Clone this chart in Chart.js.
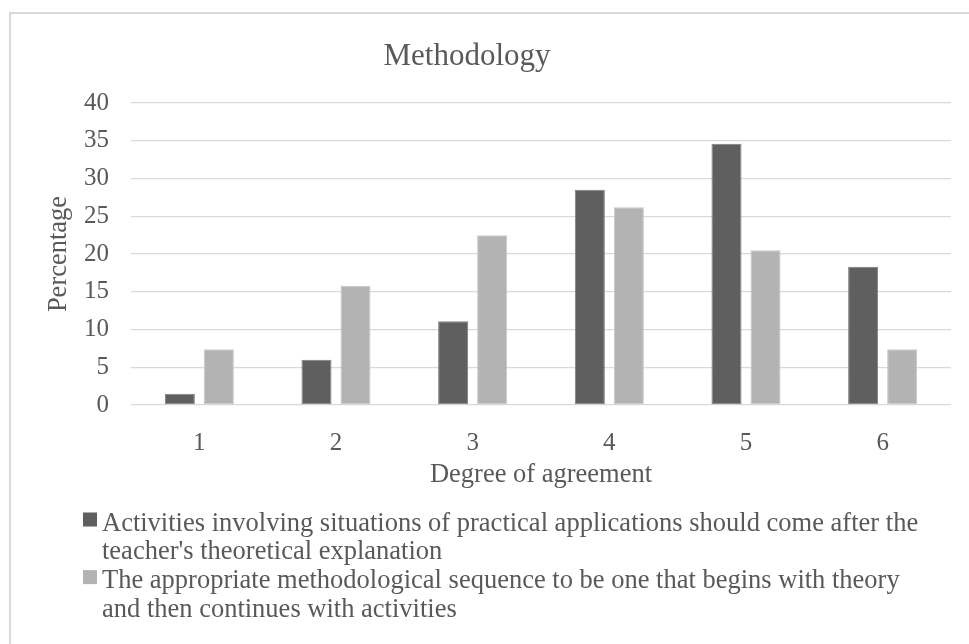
<!DOCTYPE html>
<html>
<head>
<meta charset="utf-8">
<title>Methodology</title>
<script src="https://cdn.jsdelivr.net/npm/chart.js@4.4.1/dist/chart.umd.min.js"></script>
<style>
  html, body { margin: 0; padding: 0; background: #fff; overflow: hidden; }
  #frame {
    position: absolute; left: 9px; top: 12px; width: 1000px; height: 700px;
    border: 2px solid #d9d9d9; box-sizing: border-box;
  }
  #wrap { position: absolute; left: 0; top: 0; width: 969px; height: 644px; }
</style>
</head>
<body>
<div id="frame"></div>
<div id="wrap"><canvas id="grafico" width="969" height="644"></canvas></div>
<script>
  /*
    ==================================================
    ====================== DATA ======================
    ==================================================
  */
  let chartTitle = 'Methodology';
  let xTitle = 'Degree of agreement';
  let yTitle = 'Percentage';

  let categories = ['1', '2', '3', '4', '5', '6'];
  let yTicks = [0, 5, 10, 15, 20, 25, 30, 35, 40];

  let practicalAfterTheory = [1.5, 6.0, 11.1, 28.5, 34.6, 18.3];
  let theoryThenActivities = [7.4, 15.8, 22.5, 26.2, 20.5, 7.4];

  let seriesNames = [
    "Activities involving situations of practical applications should come after the teacher's theoretical explanation",
    'The appropriate methodological sequence to be one that begins with theory and then continues with activities'
  ];
  // legend text as it wraps in the original
  let legendLines = [
    ['Activities involving situations of practical applications should come after the', "teacher's theoretical explanation"],
    ['The appropriate methodological sequence to be one that begins with theory', 'and then continues with activities']
  ];

  let textColor = '#595959';
  let gridColor = '#d9d9d9';
  let serif = '"Liberation Serif", "Times New Roman", serif';
  let seriesColors = ['#5f5f5f', '#b3b3b3'];
  let seriesBorders = ['#7d7d7d', '#c8c8c8'];

  /*
    ==================================================
    ============== TITLE + LEGEND PLUGIN ==============
    ==================================================
  */
  let textosPlugin = {
    id: 'textos',
    afterDraw(chart) {
      let ctx = chart.ctx;
      ctx.save();
      ctx.fillStyle = textColor;
      ctx.textBaseline = 'alphabetic';

      ctx.font = `31px ${serif}`;
      ctx.textAlign = 'center';
      ctx.fillText(chartTitle, 467, 65);

      ctx.font = `26.5px ${serif}`;
      ctx.textAlign = 'left';
      let baseline = 530.5;
      legendLines.forEach((lines, i) => {
        ctx.fillStyle = seriesColors[i];
        ctx.fillRect(83, baseline - 18, 14, 14);
        ctx.fillStyle = textColor;
        lines.forEach(line => {
          ctx.fillText(line, 102, baseline);
          baseline += 28.8;
        });
      });
      ctx.restore();
    }
  };

  /*
    ==================================================
    ===================== CHART =====================
    ==================================================
  */
  let grafico = new Chart(document.getElementById('grafico').getContext('2d'), {
    type: 'bar',
    data: {
      labels: categories,
      datasets: [
        {
          label: seriesNames[0],
          data: practicalAfterTheory,
          backgroundColor: seriesColors[0],
          borderColor: seriesBorders[0],
          borderWidth: 1,
          borderSkipped: false
        },
        {
          label: seriesNames[1],
          data: theoryThenActivities,
          backgroundColor: seriesColors[1],
          borderColor: seriesBorders[1],
          borderWidth: 1,
          borderSkipped: false
        }
      ]
    },
    options: {
      responsive: false,
      animation: false,
      devicePixelRatio: 1,
      categoryPercentage: 0.571,
      barPercentage: 0.77,
      layout: { padding: { left: 43, right: 18, top: 103, bottom: 149 } },
      plugins: {
        legend: { display: false },
        title: { display: false },
        tooltip: { enabled: false }
      },
      scales: {
        x: {
          grid: { display: false },
          border: { display: false },
          ticks: { color: textColor, font: { family: serif, size: 25 }, padding: 15 },
          title: {
            display: true, text: xTitle, color: textColor,
            font: { family: serif, size: 26.5 }, padding: { top: 0, bottom: 4 }
          },
          afterFit: (scale) => { scale.height = 90; }
        },
        y: {
          min: 0,
          max: 40,
          afterBuildTicks: (scale) => { scale.ticks = yTicks.map(v => ({ value: v })); },
          grid: { color: gridColor, lineWidth: 1.3, drawTicks: false },
          border: { display: false },
          ticks: { color: textColor, font: { family: serif, size: 25 }, padding: 22 },
          title: {
            display: true, text: yTitle, color: textColor,
            font: { family: serif, size: 26.5 }, padding: { top: 0, bottom: 0 }
          },
          afterFit: (scale) => { scale.width = 88; }
        }
      }
    },
    plugins: [textosPlugin]
  });
</script>
</body>
</html>
